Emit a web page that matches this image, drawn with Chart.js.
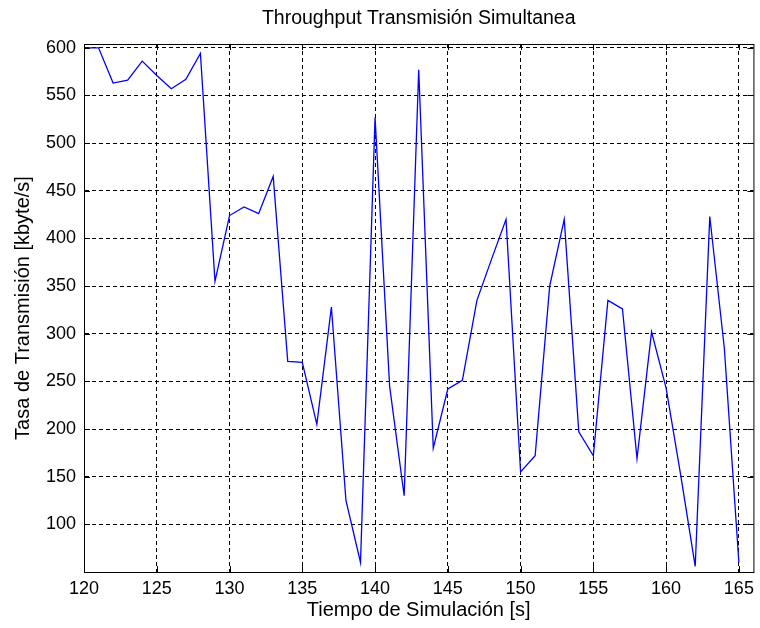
<!DOCTYPE html>
<html>
<head>
<meta charset="utf-8">
<script src="https://cdn.jsdelivr.net/npm/chart.js@4/dist/chart.umd.min.js"></script>
<style>
  html, body { margin: 0; padding: 0; background: #fff; }
  #wrap { width: 760px; height: 628px; }
</style>
</head>
<body>
<div id="wrap"><canvas id="chart" width="760" height="628"></canvas></div>
<script>
// simulation time [s]
const tiempo = [120, 121, 122, 123, 124, 125, 126, 127, 128, 129, 130, 131, 132, 133, 134, 135,
  136, 137, 138, 139, 140, 141, 142, 143, 144, 145, 146, 147, 148, 149, 150, 151, 152, 153,
  154, 155, 156, 157, 158, 159, 160, 161, 162, 163, 164, 165];
// throughput [kbyte/s]
const tasa = [600, 600, 563, 566, 586, 571, 557, 567, 594, 355, 424, 433, 426, 465, 271, 270,
  205, 328, 125, 60, 527, 245, 130, 577, 180, 242, 251, 335, 378, 420, 155, 172, 350, 420,
  197, 172, 335, 326, 169, 302, 243, 152, 56, 423, 285, 60];

const xTicks = [120, 125, 130, 135, 140, 145, 150, 155, 160, 165];
const yTicks = [100, 150, 200, 250, 300, 350, 400, 450, 500, 550, 600];

const titulo = "Throughput Transmisión Simultanea";

const points = tiempo.map((t, i) => ({ x: t, y: tasa[i] }));

const font = "'Liberation Sans', Arial, sans-serif";

// box around the plot + small inner tick marks, like the matlab axes
const boxPlugin = {
  id: "box",
  afterDatasetsDraw(chart) {
    const { ctx, chartArea: a, scales } = chart;
    ctx.save();
    ctx.strokeStyle = "#000";
    ctx.lineWidth = 1;
    ctx.setLineDash([]);
    ctx.strokeRect(a.left + 0.5, a.top + 0.5, a.right - a.left, a.bottom - a.top);
    ctx.beginPath();
    xTicks.forEach(v => {
      const px = Math.round(scales.x.getPixelForValue(v)) + 0.5;
      ctx.moveTo(px, a.bottom); ctx.lineTo(px, a.bottom - 6);
      ctx.moveTo(px, a.top); ctx.lineTo(px, a.top + 6);
    });
    yTicks.forEach(v => {
      const py = Math.round(scales.y.getPixelForValue(v)) + 0.5;
      ctx.moveTo(a.left, py); ctx.lineTo(a.left + 6, py);
      ctx.moveTo(a.right, py); ctx.lineTo(a.right - 6, py);
    });
    ctx.stroke();
    // title centred over the axes, not the whole canvas
    ctx.fillStyle = "#000";
    ctx.font = "19.5px " + font;
    ctx.textAlign = "center";
    ctx.textBaseline = "middle";
    ctx.fillText(titulo, (a.left + a.right) / 2, 19);
    ctx.restore();
  }
};

new Chart(document.getElementById("chart").getContext("2d"), {
  type: "line",
  data: {
    datasets: [{
      data: points,
      borderColor: "#0000ff",
      borderWidth: 1.3,
      pointRadius: 0,
      tension: 0,
      fill: false
    }]
  },
  options: {
    responsive: false,
    animation: false,
    layout: { padding: { left: 0, right: 5, top: 44, bottom: 0 } },
    plugins: {
      legend: { display: false },
      tooltip: { enabled: false },
      title: { display: false }
    },
    scales: {
      x: {
        type: "linear",
        min: 120,
        max: 166,
        afterFit: s => { s.height = 56; },
        afterBuildTicks: s => { s.ticks = xTicks.map(v => ({ value: v })); },
        grid: { color: "#000", lineWidth: 1, drawTicks: false },
        border: { display: true, color: "#000", dash: [4, 3] },
        ticks: {
          color: "#000",
          padding: 6,
          maxRotation: 0,
          font: { family: font, size: 18 }
        },
        title: {
          display: true,
          text: "Tiempo de Simulación [s]",
          color: "#000",
          font: { family: font, size: 20 },
          padding: { top: 0, bottom: 6 }
        }
      },
      y: {
        type: "linear",
        min: 50,
        max: 604,
        afterFit: s => { s.width = 84; },
        afterBuildTicks: s => { s.ticks = yTicks.map(v => ({ value: v })); },
        grid: { color: "#000", lineWidth: 1, drawTicks: false },
        border: { display: true, color: "#000", dash: [4, 3] },
        ticks: {
          color: "#000",
          padding: 8,
          font: { family: font, size: 18 }
        },
        title: {
          display: true,
          text: "Tasa de Transmisión [kbyte/s]",
          color: "#000",
          font: { family: font, size: 20 },
          padding: { top: 11, bottom: 0 }
        }
      }
    }
  },
  plugins: [boxPlugin]
});
</script>
</body>
</html>
